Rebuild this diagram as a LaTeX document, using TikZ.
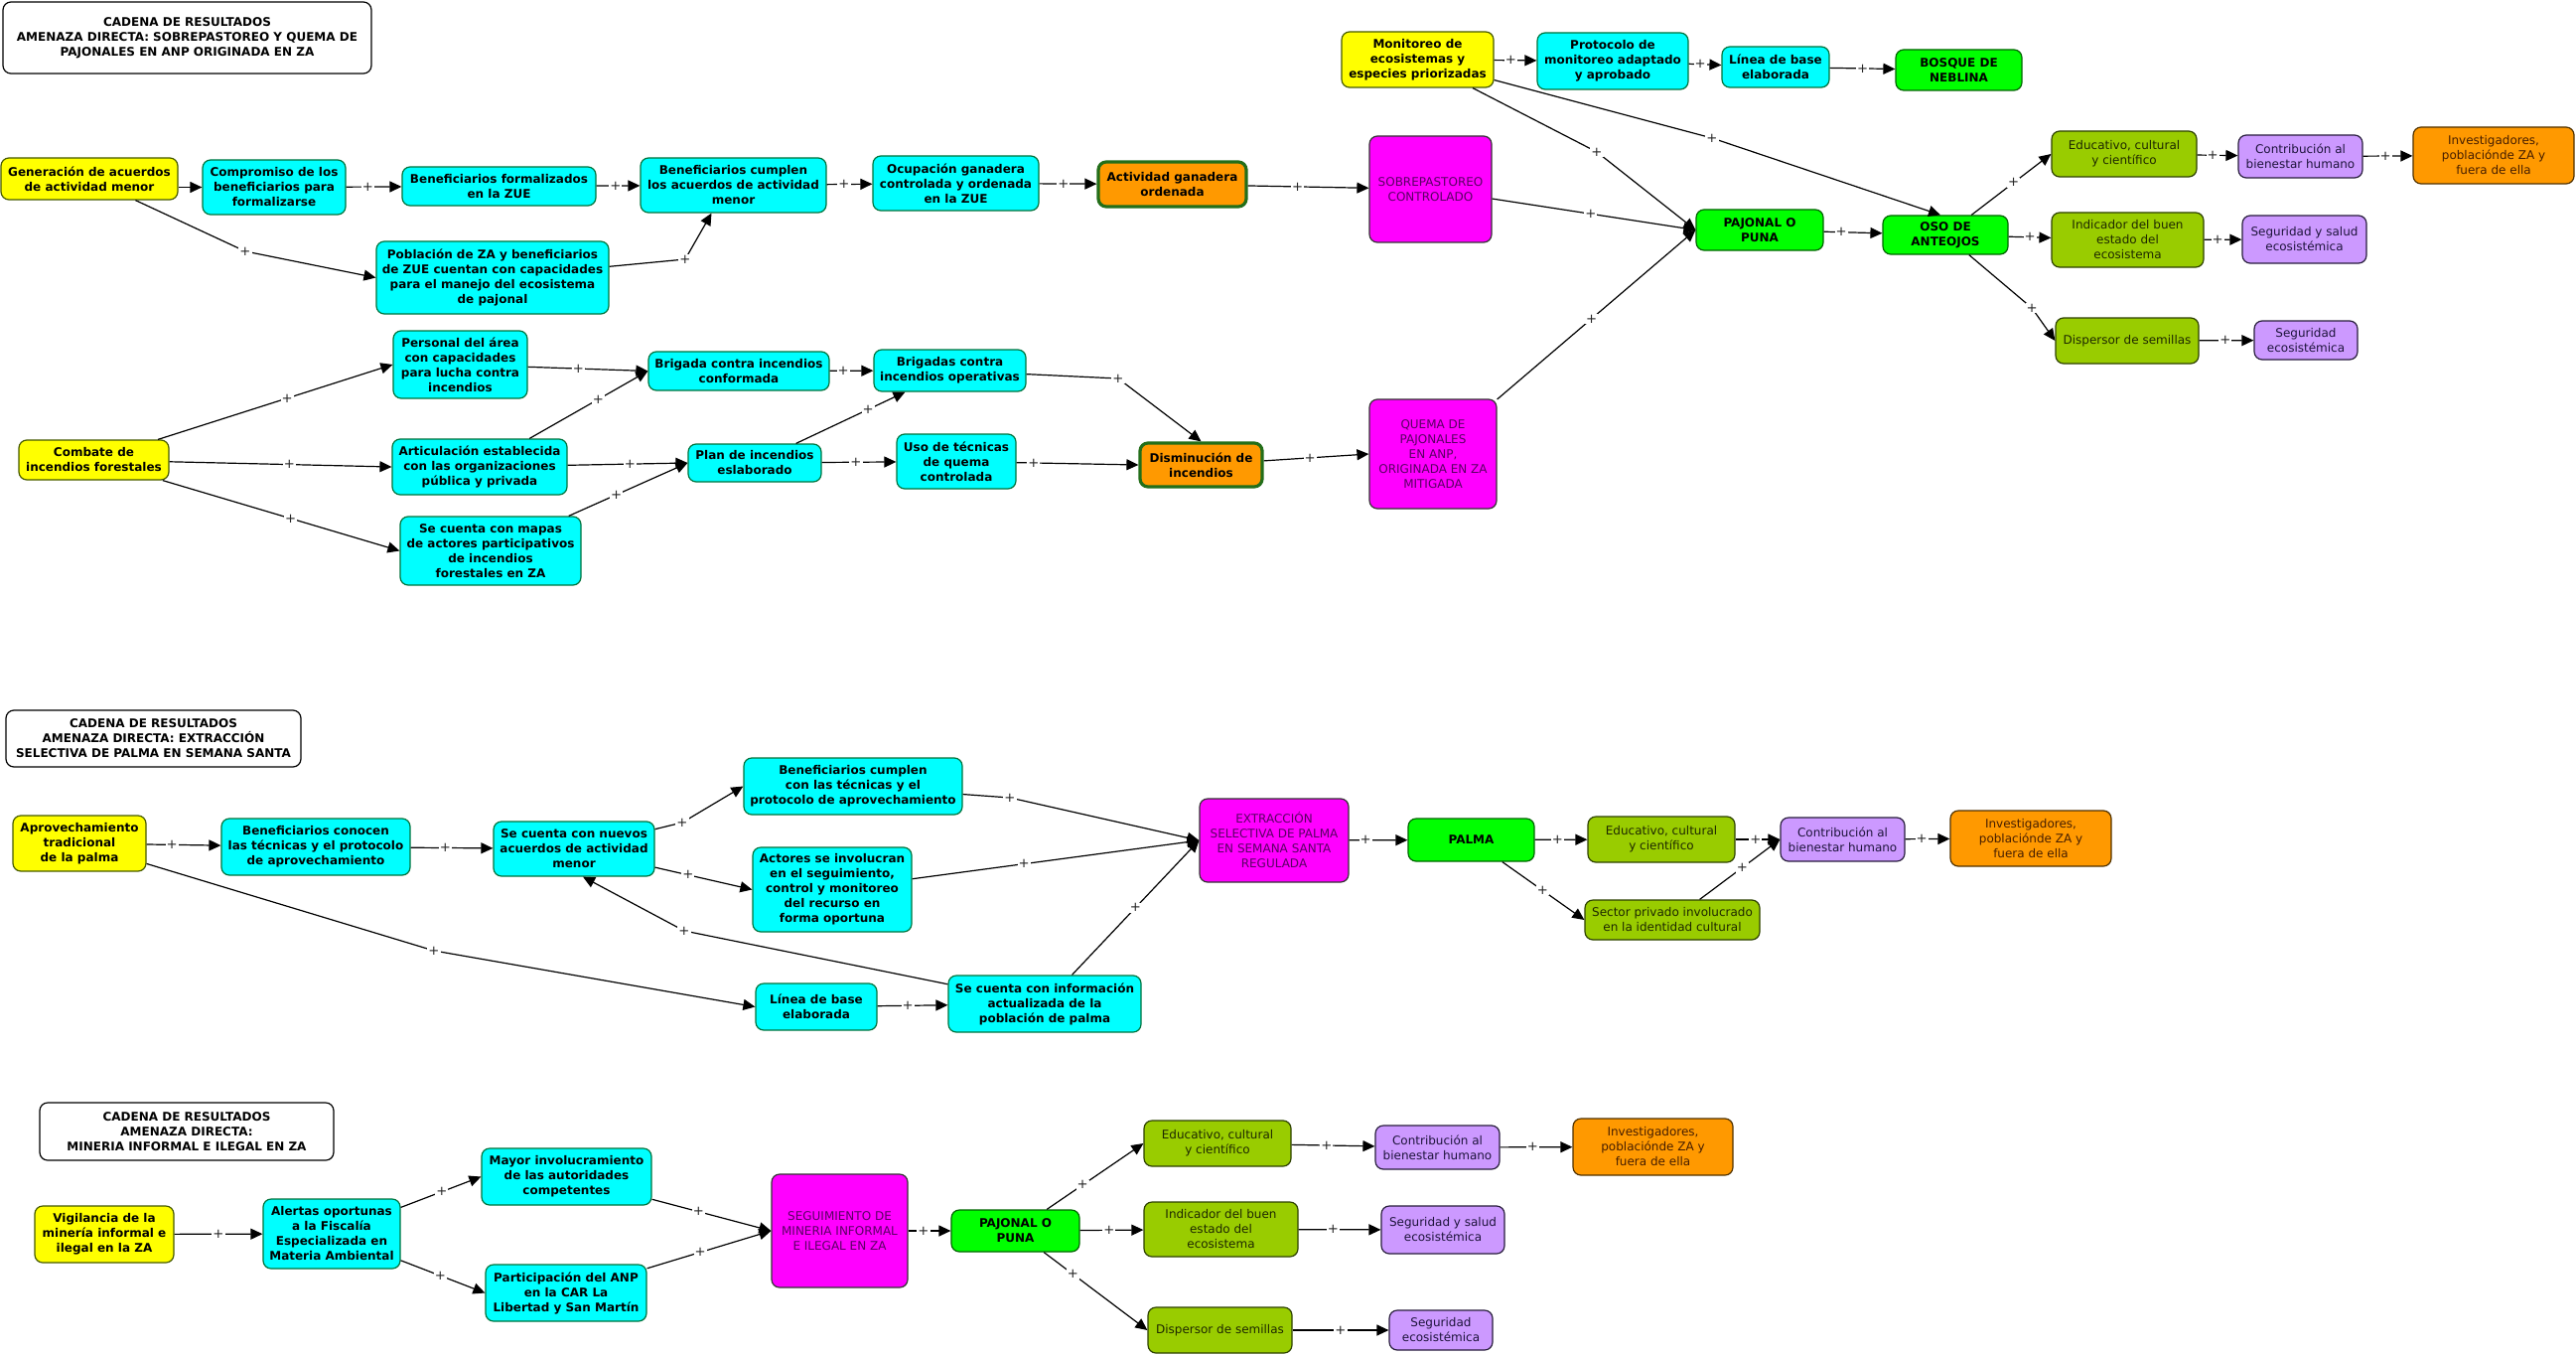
\documentclass[tikz,border=0pt]{standalone}
\usepackage{fontspec}
\setmainfont{DejaVu Sans}
\usetikzlibrary{arrows.meta}
\newcommand\fs{\fontsize{6}{7.5}\selectfont}
\newcommand\fsp{\fontsize{6.6}{7.5}\selectfont}
\definecolor{cYel}{HTML}{FFFF00}
\definecolor{cYelB}{RGB}{70,90,0}
\definecolor{cCya}{HTML}{00FFFF}
\definecolor{cCyaB}{RGB}{0,115,60}
\definecolor{cMag}{HTML}{FF00FF}
\definecolor{cMagT}{RGB}{90,0,100}
\definecolor{cGrn}{HTML}{00FF00}
\definecolor{cGrnB}{RGB}{0,100,0}
\definecolor{cOrg}{HTML}{FF9900}
\definecolor{cOrgB}{RGB}{80,50,0}
\definecolor{cOrgT}{RGB}{70,30,0}
\definecolor{cOrgK}{RGB}{35,110,25}
\definecolor{cOli}{HTML}{99CC00}
\definecolor{cOliB}{RGB}{45,65,0}
\definecolor{cOliT}{RGB}{30,40,0}
\definecolor{cPur}{HTML}{CC99FF}
\definecolor{cPurB}{RGB}{40,30,60}
\definecolor{cPurT}{RGB}{30,20,60}
\newcommand\bx[7]{\node[#2, minimum width={(#5-#3)*0.5pt}, minimum height={(#6-#4)*0.5pt}] (#1) at ({(#3+#5)/2},{(#4+#6)/2}) {#7};}
\tikzset{
  base/.style={draw, rounded corners=4pt, align=center, inner sep=1pt, line width=0.6pt, font=\fs},
  ttl/.style={base, fill=white, draw=black, font=\fs\bfseries},
  yel/.style={base, fill=cYel, draw=cYelB, font=\fs\bfseries},
  cya/.style={base, fill=cCya, draw=cCyaB, font=\fs\bfseries},
  mag/.style={base, fill=cMag, draw=black!80, text=cMagT},
  grn/.style={base, fill=cGrn, draw=cGrnB, font=\fs\bfseries},
  org/.style={base, fill=cOrg, draw=cOrgB, text=cOrgT},
  orgk/.style={base, fill=cOrg, draw=cOrgK, line width=1.6pt, font=\fs\bfseries},
  oli/.style={base, fill=cOli, draw=cOliB, text=cOliT},
  pur/.style={base, fill=cPur, draw=cPurB, text=cPurT},
  arr/.style={draw=black, line width=0.6pt, -{Triangle[length=6pt,width=5.5pt]}},
  plus/.style={fill=white, inner sep=0.5pt, font=\fsp, text=black!85}
}
\begin{document}
\begin{tikzpicture}[x=0.5pt,y=-0.5pt]
\fill[white] (0,0) rectangle (2594,1364);
\useasboundingbox (0,0) rectangle (2594,1364);
% ---------------- chain 1
\bx{t1}{ttl}{3}{2}{374}{74}{CADENA DE RESULTADOS\\AMENAZA DIRECTA: SOBREPASTOREO Y QUEMA DE\\PAJONALES EN ANP ORIGINADA EN ZA}
\bx{gen}{yel}{1}{159}{179}{201}{Generación de acuerdos\\de actividad menor}
\bx{comp}{cya}{204}{161}{348}{216}{Compromiso de los\\beneficiarios para\\formalizarse}
\bx{bform}{cya}{405}{168}{600}{207}{Beneficiarios formalizados\\en la ZUE}
\bx{bcum}{cya}{645}{159}{832}{214}{Beneficiarios cumplen\\los acuerdos de actividad\\menor}
\bx{ocup}{cya}{879}{157}{1046}{212}{Ocupación ganadera\\controlada y ordenada\\en la ZUE}
\bx{actg}{orgk}{1106}{163}{1255}{208}{Actividad ganadera\\ordenada}
\bx{pob}{cya}{379}{243}{613}{316}{Población de ZA y beneficiarios\\de ZUE cuentan con capacidades\\para el manejo del ecosistema\\de pajonal}
\bx{sobre}{mag}{1379}{137}{1502}{244}{SOBREPASTOREO\\CONTROLADO}
\bx{mon}{yel}{1351}{32}{1504}{88}{Monitoreo de\\ecosistemas y\\especies priorizadas}
\bx{prot}{cya}{1548}{33}{1700}{90}{Protocolo de\\monitoreo adaptado\\y aprobado}
\bx{lin1}{cya}{1734}{47}{1842}{88}{Línea de base\\elaborada}
\bx{bosq}{grn}{1909}{50}{2036}{91}{BOSQUE DE\\NEBLINA}
\bx{paj1}{grn}{1708}{211}{1836}{252}{PAJONAL O\\PUNA}
\bx{oso}{grn}{1896}{217}{2022}{256}{OSO DE\\ANTEOJOS}
\bx{edu1}{oli}{2066}{132}{2212}{178}{Educativo, cultural\\y científico}
\bx{con1}{pur}{2254}{136}{2379}{179}{Contribución al\\bienestar humano}
\bx{inv1}{org}{2430}{128}{2592}{185}{Investigadores,\\poblaciónde ZA y\\fuera de ella}
\bx{ind1}{oli}{2066}{214}{2219}{269}{Indicador del buen\\estado del\\ecosistema}
\bx{ss1}{pur}{2258}{217}{2383}{265}{Seguridad y salud\\ecosistémica}
\bx{dis1}{oli}{2070}{320}{2214}{366}{Dispersor de semillas}
\bx{seg1}{pur}{2270}{323}{2374}{362}{Seguridad\\ecosistémica}
% fire
\bx{comb}{yel}{19}{443}{170}{483}{Combate de\\incendios forestales}
\bx{pers}{cya}{396}{333}{531}{401}{Personal del área\\con capacidades\\para lucha contra\\incendios}
\bx{art}{cya}{395}{442}{571}{498}{Articulación establecida\\con las organizaciones\\pública y privada}
\bx{mapas}{cya}{403}{520}{585}{589}{Se cuenta con mapas\\de actores participativos\\de incendios\\forestales en ZA}
\bx{bconf}{cya}{653}{354}{835}{393}{Brigada contra incendios\\conformada}
\bx{bop}{cya}{880}{352}{1033}{394}{Brigadas contra\\incendios operativas}
\bx{plan}{cya}{693}{447}{827}{485}{Plan de incendios\\eslaborado}
\bx{uso}{cya}{903}{437}{1023}{492}{Uso de técnicas\\de quema\\controlada}
\bx{dism}{orgk}{1148}{446}{1271}{490}{Disminución de\\incendios}
\bx{quema}{mag}{1379}{402}{1507}{512}{QUEMA DE\\PAJONALES\\EN ANP,\\ORIGINADA EN ZA\\MITIGADA}
% ---------------- chain 2
\bx{t2}{ttl}{6}{715}{303}{772}{CADENA DE RESULTADOS\\AMENAZA DIRECTA: EXTRACCIÓN\\SELECTIVA DE PALMA EN SEMANA SANTA}
\bx{aprov}{yel}{13}{821}{147}{877}{Aprovechamiento\\tradicional\\de la palma}
\bx{bcon}{cya}{223}{824}{413}{881}{Beneficiarios conocen\\las técnicas y el protocolo\\de aprovechamiento}
\bx{nuev}{cya}{497}{827}{659}{882}{Se cuenta con nuevos\\acuerdos de actividad\\menor}
\bx{bcc}{cya}{749}{763}{969}{820}{Beneficiarios cumplen\\con las técnicas y el\\protocolo de aprovechamiento}
\bx{act}{cya}{758}{853}{918}{938}{Actores se involucran\\en el seguimiento,\\control y monitoreo\\del recurso en\\forma oportuna}
\bx{lin2}{cya}{761}{990}{883}{1037}{Línea de base\\elaborada}
\bx{info}{cya}{955}{982}{1149}{1039}{Se cuenta con información\\actualizada de la\\población de palma}
\bx{extr}{mag}{1208}{804}{1358}{888}{EXTRACCIÓN\\SELECTIVA DE PALMA\\EN SEMANA SANTA\\REGULADA}
\bx{palma}{grn}{1418}{824}{1545}{867}{PALMA}
\bx{edu2}{oli}{1599}{822}{1747}{868}{Educativo, cultural\\y científico}
\bx{sect}{oli}{1596}{906}{1772}{946}{Sector privado involucrado\\en la identidad cultural}
\bx{con2}{pur}{1793}{823}{1918}{867}{Contribución al\\bienestar humano}
\bx{inv2}{org}{1964}{816}{2126}{872}{Investigadores,\\poblaciónde ZA y\\fuera de ella}
% ---------------- chain 3
\bx{t3}{ttl}{40}{1110}{336}{1168}{CADENA DE RESULTADOS\\AMENAZA DIRECTA:\\MINERIA INFORMAL E ILEGAL EN ZA}
\bx{vig}{yel}{35}{1214}{175}{1271}{Vigilancia de la\\minería informal e\\ilegal en la ZA}
\bx{alert}{cya}{265}{1207}{403}{1277}{Alertas oportunas\\a la Fiscalía\\Especializada en\\Materia Ambiental}
\bx{mayor}{cya}{485}{1156}{656}{1213}{Mayor involucramiento\\de las autoridades\\competentes}
\bx{part}{cya}{489}{1273}{651}{1330}{Participación del ANP\\en la CAR La\\Libertad y San Martín}
\bx{seg}{mag}{777}{1182}{914}{1296}{SEGUIMIENTO DE\\MINERIA INFORMAL\\E ILEGAL EN ZA}
\bx{paj3}{grn}{958}{1218}{1087}{1260}{PAJONAL O\\PUNA}
\bx{edu3}{oli}{1152}{1128}{1300}{1174}{Educativo, cultural\\y científico}
\bx{con3}{pur}{1385}{1133}{1510}{1177}{Contribución al\\bienestar humano}
\bx{inv3}{org}{1584}{1126}{1745}{1183}{Investigadores,\\poblaciónde ZA y\\fuera de ella}
\bx{ind3}{oli}{1152}{1210}{1307}{1265}{Indicador del buen\\estado del\\ecosistema}
\bx{ss3}{pur}{1391}{1214}{1515}{1262}{Seguridad y salud\\ecosistémica}
\bx{dis3}{oli}{1156}{1316}{1301}{1362}{Dispersor de semillas}
\bx{seg3}{pur}{1399}{1319}{1503}{1359}{Seguridad\\ecosistémica}
% ---------------- edges chain 1
\draw[arr] (gen.east |- comp.west) -- (comp.west);
\draw[arr] (comp) -- node[plus,pos=.39]{+} (bform);
\draw[arr] (bform) -- node[plus,pos=.44]{+} (bcum);
\draw[arr] (gen) -- (247,253) node[plus]{+} -- (pob.west);
\draw[arr] (pob) -- (690,261) node[plus]{+} -- ([xshift=-11pt]bcum.south);
\draw[arr] (bcum) -- node[plus,pos=.38]{+} (ocup);
\draw[arr] (ocup) -- node[plus,pos=.42]{+} (actg);
\draw[arr] (actg) -- node[plus,pos=.41]{+} (sobre);
\draw[arr] (sobre) -- node[plus,pos=.485]{+} (paj1.west);
\draw[arr] (mon) -- node[plus,pos=.39]{+} (prot);
\draw[arr] (prot) -- node[plus,pos=.35]{+} (lin1);
\draw[arr] (lin1) -- node[plus,pos=.5]{+} (bosq);
\draw[arr] (mon) -- (1608,153) node[plus]{+} -- (paj1.west);
\draw[arr] (mon) -- (1724,139) node[plus]{+} -- ([xshift=-2.5pt]oso.north);
\draw[arr] (quema) -- node[plus,pos=.475]{+} (paj1.west);
\draw[arr] (paj1) -- node[plus,pos=.3]{+} (oso);
\draw[arr] (oso) -- node[plus,pos=.53]{+} (edu1.west);
\draw[arr] (oso) -- node[plus,pos=.5]{+} (ind1);
\draw[arr] (oso) -- (2046,310) node[plus]{+} -- (dis1.west);
\draw[arr] (edu1) -- node[plus,pos=.38]{+} (con1);
\draw[arr] (con1) -- node[plus,pos=.45]{+} (inv1);
\draw[arr] (ind1) -- node[plus,pos=.36]{+} (ss1);
\draw[arr] (dis1) -- node[plus,pos=.48]{+} (seg1);
% fire
\draw[arr] (comb) -- node[plus,pos=.55]{+} (pers.west);
\draw[arr] (comb) -- node[plus,pos=.54]{+} (art.west);
\draw[arr] (comb) -- node[plus,pos=.54]{+} (mapas.west);
\draw[arr] (pers) -- node[plus,pos=.42]{+} (bconf.west);
\draw[arr] (art) -- node[plus,pos=.58]{+} (bconf.west);
\draw[arr] (art) -- node[plus,pos=.52]{+} (plan.west);
\draw[arr] (mapas) -- node[plus,pos=.4]{+} (plan.west);
\draw[arr] (bconf) -- node[plus,pos=.31]{+} (bop);
\draw[arr] (plan) -- node[plus,pos=.66]{+} ([xshift=-22.5pt]bop.south);
\draw[arr] (plan) -- node[plus,pos=.46]{+} (uso);
\draw[arr] (bop) -- (1126,381) node[plus]{+} -- (dism.north);
\draw[arr] (uso) -- node[plus,pos=.14]{+} (dism.west);
\draw[arr] (dism) -- node[plus,pos=.44]{+} (quema.west);
% chain 2
\draw[arr] (aprov) -- node[plus,pos=.34]{+} (bcon);
\draw[arr] (bcon) -- node[plus,pos=.42]{+} (nuev);
\draw[arr] (nuev) -- (687,828) node[plus]{+} -- (bcc.west);
\draw[arr] (nuev) -- node[plus,pos=.34]{+} (act.west);
\draw[arr] (aprov) -- (437,957) node[plus]{+} -- (lin2.west);
\draw[arr] (lin2) -- node[plus,pos=.43]{+} (info);
\draw[arr] (info) -- (689,937) node[plus]{+} -- ([xshift=4.5pt]nuev.south);
\draw[arr] (bcc) -- (1017,803) node[plus]{+} -- (extr.west);
\draw[arr] (act) -- node[plus,pos=.39]{+} (extr.west);
\draw[arr] (info) -- node[plus,pos=.5]{+} (extr.west);
\draw[arr] (extr) -- node[plus,pos=.28]{+} (palma);
\draw[arr] (palma) -- node[plus,pos=.43]{+} (edu2);
\draw[arr] (palma) -- node[plus,pos=.49]{+} (sect.west);
\draw[arr] (edu2) -- node[plus,pos=.45]{+} (con2.west);
\draw[arr] (sect) -- node[plus,pos=.53]{+} (con2.west);
\draw[arr] (con2) -- node[plus,pos=.37]{+} (inv2);
% chain 3
\draw[arr] (vig) -- node[plus,pos=.5]{+} (alert);
\draw[arr] (alert) -- node[plus,pos=.51]{+} (mayor.west);
\draw[arr] (alert) -- node[plus,pos=.47]{+} (part.west);
\draw[arr] (mayor) -- node[plus,pos=.39]{+} (seg.west);
\draw[arr] (part) -- node[plus,pos=.43]{+} (seg.west);
\draw[arr] (seg) -- node[plus,pos=.36]{+} (paj3);
\draw[arr] (paj3) -- node[plus,pos=.37]{+} (edu3.west);
\draw[arr] (paj3) -- node[plus,pos=.46]{+} (ind3);
\draw[arr] (paj3) -- node[plus,pos=.28]{+} (dis3.west);
\draw[arr] (edu3) -- node[plus,pos=.42]{+} (con3);
\draw[arr] (con3) -- node[plus,pos=.45]{+} (inv3);
\draw[arr] (ind3) -- node[plus,pos=.42]{+} (ss3);
\draw[arr] (dis3) -- node[plus,pos=.5]{+} (seg3);
\end{tikzpicture}
\end{document}
